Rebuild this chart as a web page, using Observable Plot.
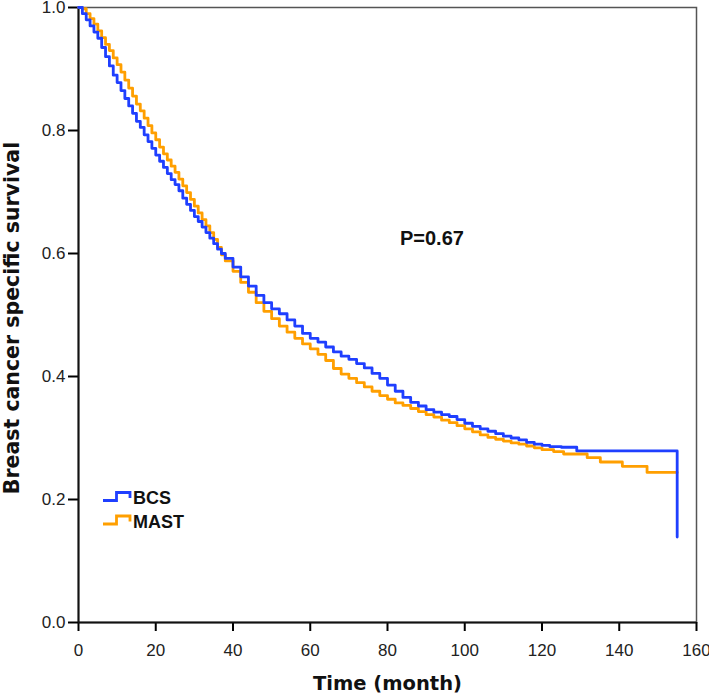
<!DOCTYPE html>
<html><head><meta charset="utf-8">
<script src="https://cdn.jsdelivr.net/npm/d3@7"></script>
<script src="https://cdn.jsdelivr.net/npm/@observablehq/plot@0.6"></script>
<style>body{margin:0;background:#fff} #chart{width:709px;height:696px}</style>
</head><body><div id="chart"></div>
<script>
// ---- data ----
const groups = ["BCS", "MAST"];
const colors = ["#1f3fff", "#ff9f00"];

const bcsTime = [0,1,2,3,4,5,6,7,8,9,10,11,12,13,14,15,16,17,18,19,20,21,22,23,24,25,26,27,28,29,30,31,32,33,34,35,36,37,38,40,42,44,46,48,50,52,54,56,58,60,62,64,66,68,70,72,74,76,78,80,82,84,86,88,90,92,94,96,98,100,102,104,106,108,110,112,114,116,118,120,122,125,129,155];
const bcsSurv = [1.0,0.99,0.98,0.97,0.96,0.95,0.935,0.92,0.905,0.89,0.878,0.865,0.852,0.84,0.828,0.815,0.805,0.793,0.782,0.771,0.76,0.75,0.74,0.73,0.72,0.712,0.702,0.69,0.68,0.67,0.66,0.652,0.643,0.634,0.625,0.616,0.607,0.6,0.592,0.578,0.562,0.547,0.532,0.52,0.51,0.502,0.492,0.482,0.47,0.462,0.456,0.448,0.44,0.433,0.428,0.421,0.414,0.405,0.397,0.386,0.376,0.366,0.358,0.352,0.346,0.342,0.338,0.335,0.33,0.324,0.319,0.315,0.311,0.307,0.303,0.3,0.297,0.293,0.29,0.288,0.286,0.285,0.279,0.139];

const mastTime = [0,1,2,3,4,5,6,7,8,9,10,11,12,13,14,15,16,17,18,19,20,21,22,23,24,25,26,27,28,29,30,31,32,33,34,35,36,37,38,40,42,44,46,48,50,52,54,56,58,60,62,64,66,68,70,72,74,76,78,80,82,84,86,88,90,92,94,96,98,100,102,104,106,108,110,112,114,116,118,120,123,125.6,131.7,135.1,140.8,147.2,155];
const mastSurv = [1.0,0.998,0.99,0.982,0.973,0.962,0.951,0.94,0.93,0.918,0.907,0.895,0.882,0.869,0.856,0.843,0.832,0.82,0.808,0.796,0.785,0.773,0.762,0.752,0.742,0.732,0.721,0.71,0.699,0.688,0.677,0.666,0.655,0.645,0.634,0.623,0.61,0.598,0.588,0.571,0.553,0.537,0.52,0.506,0.494,0.482,0.472,0.462,0.453,0.445,0.436,0.426,0.413,0.404,0.397,0.39,0.383,0.376,0.369,0.363,0.357,0.353,0.348,0.343,0.338,0.334,0.329,0.325,0.32,0.315,0.31,0.305,0.301,0.298,0.295,0.292,0.29,0.287,0.284,0.281,0.278,0.274,0.268,0.261,0.254,0.244,0.244];

const xTicks = [0,20,40,60,80,100,120,140,160];
const yTicks = [0,0.2,0.4,0.6,0.8,1.0];
const xTitle = "Time (month)";
const yTitle = "Breast cancer specific survival";
const pText = "P=0.67";
const pPos = {t: 91.5, s: 0.625};

// ---- tables ----
const bcs = bcsTime.map((t, i) => ({t, s: bcsSurv[i]}));
const mast = mastTime.map((t, i) => ({t, s: mastSurv[i]}));

const titleFont = "'DejaVu Sans', Verdana, sans-serif";
const tickFont = "'Liberation Sans', Arial, sans-serif";

const plot = Plot.plot({
  width: 709, height: 696,
  marginLeft: 78, marginRight: 13, marginTop: 7, marginBottom: 74,
  style: {fontFamily: tickFont, background: "#fff", overflow: "visible"},
  x: {domain: [0, 160]},
  y: {domain: [0, 1]},
  marks: [
    Plot.frame({stroke: "#555", strokeWidth: 1.5}),
    Plot.axisX({ticks: xTicks, tickSize: 9, tickPadding: 12, fontSize: 17, fill: "#222", strokeWidth: 2, label: null}),
    Plot.axisY({ticks: yTicks, tickFormat: d3.format(".1f"), tickSize: 10, tickPadding: 3, fontSize: 17, fill: "#222", strokeWidth: 2, label: null}),
    Plot.ruleX([0], {stroke: "#111", strokeWidth: 2}),
    Plot.ruleY([0], {stroke: "#111", strokeWidth: 2}),
    Plot.line(mast, {x: "t", y: "s", stroke: colors[1], strokeWidth: 2.8, curve: "step-after"}),
    Plot.line(bcs, {x: "t", y: "s", stroke: colors[0], strokeWidth: 2.8, curve: "step-after"}),
    Plot.text([pText], {x: () => pPos.t, y: () => pPos.s, text: d => d, fontSize: 20, fontWeight: "bold", fill: "#111"}),
    Plot.text([xTitle], {frameAnchor: "bottom", dy: 61, text: d => d, textAnchor: "middle", lineAnchor: "middle", fontSize: 19.5, fontWeight: "bold", fontFamily: titleFont, fill: "#111"}),
    Plot.text([yTitle], {frameAnchor: "left", dx: -66.5, dy: 3, rotate: -90, text: d => d, textAnchor: "middle", lineAnchor: "middle", fontSize: 20.5, fontWeight: "bold", fontFamily: titleFont, fill: "#111"})
  ]
});
document.getElementById("chart").append(plot);

// ---- in-plot legend ----
const svg = d3.select(plot);
const leg = svg.append("g").attr("transform", "translate(103,490)");
groups.forEach((g, i) => {
  const item = leg.append("g").attr("transform", `translate(0,${i * 23.5})`);
  item.append("path")
    .attr("d", "M0,10.5 H13.5 V2.5 H27 V8")
    .attr("fill", "none").attr("stroke", colors[i]).attr("stroke-width", 2.8);
  item.append("text")
    .attr("x", 30).attr("y", 8).attr("dy", "0.35em")
    .attr("text-anchor", "start")
    .attr("font-family", tickFont).attr("font-size", 18).attr("font-weight", "bold")
    .attr("fill", "#111").text(g);
});
</script></body></html>
